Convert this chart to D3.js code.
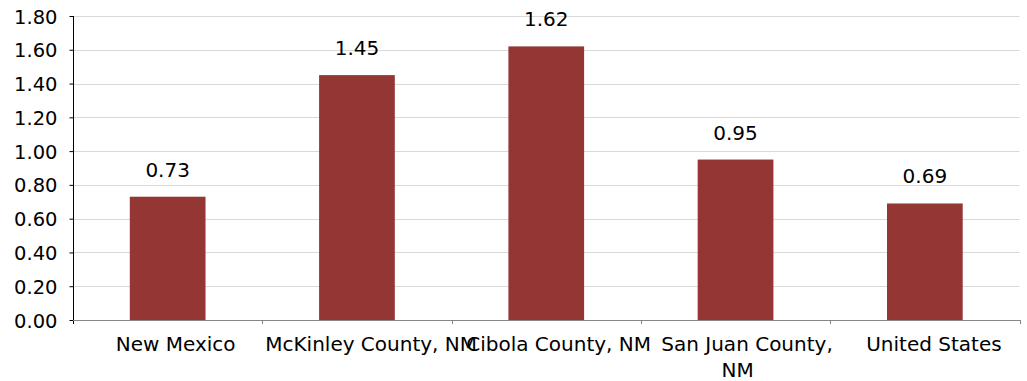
<!DOCTYPE html>
<html>
<head>
<meta charset="utf-8">
<script src="https://cdn.jsdelivr.net/npm/d3@7"></script>
<style>
  html, body { margin: 0; padding: 0; background: #fff; }
  svg text { font-family: "DejaVu Sans", sans-serif; fill: #000; }
</style>
</head>
<body>
<svg id="chart" width="1027" height="381"></svg>
<script>
// Category names, their axis labels (split into lines) and values
const categories = ["New Mexico", "McKinley County, NM", "Cibola County, NM", "San Juan County, NM", "United States"];
const tickLabels = [["New Mexico"], ["McKinley County, NM"], ["Cibola County, NM"], ["San Juan County,", "NM"], ["United States"]];
const values = [0.73, 1.45, 1.62, 0.95, 0.69];
const yTicks = [0, 0.2, 0.4, 0.6, 0.8, 1.0, 1.2, 1.4, 1.6, 1.8];

const svg = d3.select("#chart");
const plotLeft = 73, plotRight = 1019.5, plotTop = 16, plotBottom = 320;

const x = d3.scaleBand().domain(categories).range([plotLeft, plotRight]).paddingInner(0).paddingOuter(0);
const y = d3.scaleLinear().domain([0, 1.8]).range([plotBottom, plotTop]);
const barW = x.bandwidth() * 0.4;

// horizontal gridlines
svg.append("g").selectAll("line").data(yTicks.filter(d => d > 0)).join("line")
  .attr("x1", plotLeft).attr("x2", plotRight)
  .attr("y1", d => Math.round(y(d)) + 0.5).attr("y2", d => Math.round(y(d)) + 0.5)
  .attr("stroke", "#d9d9d9").attr("stroke-width", 1);

// bars
svg.append("g").selectAll("rect").data(values).join("rect")
  .attr("x", (d, i) => x(categories[i]) + (x.bandwidth() - barW) / 2)
  .attr("width", barW)
  .attr("y", d => y(d))
  .attr("height", d => y(0) - y(d))
  .attr("fill", "#943634");

// value labels
svg.append("g").selectAll("text").data(values).join("text")
  .attr("x", (d, i) => x(categories[i]) + x.bandwidth() / 2)
  .attr("y", d => y(d) - 20)
  .attr("text-anchor", "middle")
  .style("font-size", "20px")
  .text(d => d.toFixed(2));

// y axis
const yAxis = d3.axisLeft(y).tickValues(yTicks).tickFormat(d3.format(".2f")).tickSize(4).tickPadding(12);
const gy = svg.append("g").attr("transform", `translate(${plotLeft + 0.5},0)`).call(yAxis);
gy.select(".domain").remove();
gy.selectAll(".tick line").attr("stroke", "#000");
gy.selectAll(".tick text").style("font-size", "19.5px").attr("dy", "0.36em").attr("fill", "#000");
gy.append("line").attr("x1", 0).attr("x2", 0).attr("y1", plotTop).attr("y2", plotBottom + 4).attr("stroke", "#000");

// x axis: baseline with ticks at band boundaries
const gx = svg.append("g");
gx.append("line").attr("x1", plotLeft).attr("x2", plotRight + 0.5)
  .attr("y1", plotBottom + 0.5).attr("y2", plotBottom + 0.5).attr("stroke", "#868686");
const bounds = categories.map(c => x(c)).concat([plotRight]);
gx.selectAll("line.tk").data(bounds.slice(1)).join("line").attr("class", "tk")
  .attr("x1", d => Math.round(d) + 0.5).attr("x2", d => Math.round(d) + 0.5)
  .attr("y1", plotBottom).attr("y2", plotBottom + 4).attr("stroke", "#868686");

// category labels
const labels = gx.selectAll("text.cat").data(tickLabels).join("text").attr("class", "cat")
  .style("font-size", "20px")
  .attr("text-anchor", "start");
labels.each(function(lines, i) {
  const t = d3.select(this);
  const cx = x(categories[i]) + x.bandwidth() / 2;
  lines.forEach((ln, j) => {
    const ts = t.append("tspan").attr("y", 351 + j * 25.5).text(ln);
    const w = ts.node().getComputedTextLength();
    ts.attr("x", cx - w * 0.433);
  });
});
</script>
</body>
</html>
